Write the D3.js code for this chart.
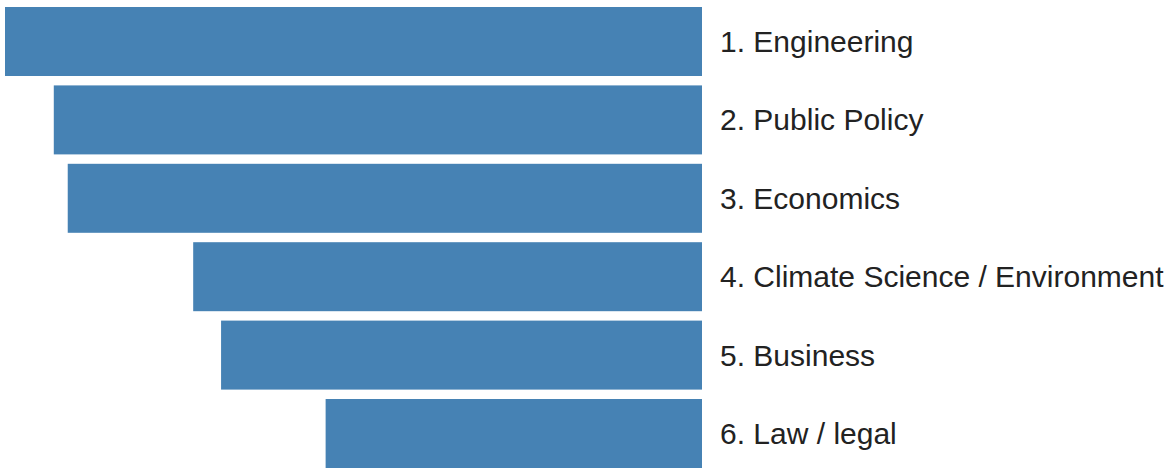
<!DOCTYPE html>
<html>
<head>
<meta charset="utf-8">
<script src="https://cdn.jsdelivr.net/npm/d3@7"></script>
<style>
  body { margin: 0; background: #fff; }
  svg { display: block; }
</style>
</head>
<body>
<div id="chart"></div>
<script>
// fields ranked, values relative to the top field
const fields = [
  "1. Engineering",
  "2. Public Policy",
  "3. Economics",
  "4. Climate Science / Environment",
  "5. Business",
  "6. Law / legal"
];
const scores = [100, 93, 91, 73, 69, 54];

const width = 1173;
const height = 468;

const data = fields.map((f, i) => ({ field: f, score: scores[i] }));

const svg = d3.select("#chart")
  .append("svg")
  .attr("width", width)
  .attr("height", height);

// bars grow leftwards from a common right edge
const xScale = d3.scaleLinear()
  .domain([0, d3.max(scores)])
  .range([702, 5]);

const yScale = d3.scaleBand()
  .domain(fields)
  .range([7, 468])
  .paddingInner(0.12)
  .paddingOuter(0);

svg.append("g")
  .selectAll("rect")
  .data(data)
  .join("rect")
  .attr("x", d => xScale(d.score))
  .attr("y", d => yScale(d.field))
  .attr("width", d => xScale(0) - xScale(d.score))
  .attr("height", yScale.bandwidth())
  .attr("fill", "steelblue");

svg.append("g")
  .selectAll("text")
  .data(data)
  .join("text")
  .attr("x", xScale(0) + 18)
  .attr("y", d => yScale(d.field) + yScale.bandwidth() / 2)
  .attr("dy", "0.35em")
  .style("font-family", "Liberation Sans, Arial, sans-serif")
  .style("font-size", "30px")
  .attr("fill", "#222")
  .text(d => d.field);
</script>
</body>
</html>
